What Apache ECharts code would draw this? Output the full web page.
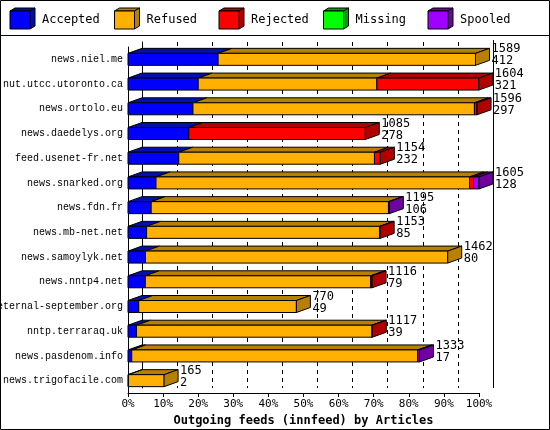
<!DOCTYPE html>
<html><head><meta charset="utf-8">
<script src="https://cdn.jsdelivr.net/npm/echarts@6/dist/echarts.min.js"></script>
<style>html,body{margin:0;padding:0;background:#fff}#c{width:550px;height:430px}</style>
</head><body><div id="c"></div>
<script>
const hosts = ["news.niel.me","nut.utcc.utoronto.ca","news.ortolo.eu","news.daedelys.org","feed.usenet-fr.net","news.snarked.org","news.fdn.fr","news.mb-net.net","news.samoylyk.net","news.nntp4.net","eternal-september.org","nntp.terraraq.uk","news.pasdenom.info","news.trigofacile.com"];
const totals   = [1589,1604,1596,1085,1154,1605,1195,1153,1462,1116,770,1117,1333,165];
const accepted = [412,321,297,278,232,128,106,85,80,79,49,39,17,2];
const refused  = [1177,817,1287,0,895,1434,1085,1065,1382,1031,721,1077,1308,163];
const rejected = [0,466,12,807,27,18,0,3,0,6,0,1,0,0];
const missing  = [0,0,0,0,0,0,0,0,0,0,0,0,0,0];
const spooled  = [0,0,0,0,0,25,4,0,0,0,0,0,8,0];
const seriesNames = ["Accepted","Refused","Rejected","Missing","Spooled"];
const front = ["#0000ff","#ffb000","#ff0000","#00ff00","#a000ff"];
const dark  = ["#0010b0","#b88000","#b00000","#00a000","#7000a0"];
const axisMax = 1605;

const cols = [accepted, refused, rejected, missing, spooled];
const data = [];
hosts.forEach((h, i) => {
  let s = 0, lastK = -1;
  cols.forEach((c, k) => { if (c[i] > 0) lastK = k; });
  cols.forEach((c, k) => {
    if (c[i] > 0) { data.push([i, s, s + c[i], k, k === lastK ? 1 : 0]); s += c[i]; }
  });
});
const DX = 14, DY = 5, H = 6;
function renderItem(params, api) {
  const i = api.value(0), a = api.value(1), b = api.value(2), k = api.value(3), last = api.value(4);
  const p0 = api.coord([a, i]), p1 = api.coord([b, i]);
  const x0 = p0[0], x1 = p1[0], yc = p0[1];
  const st = {stroke: "#000", lineWidth: 1};
  const ch = [
    {type:"polygon", shape:{points:[[x0,yc-H],[x0+DX,yc-H-DY],[x1+DX,yc-H-DY],[x1,yc-H]]}, style:Object.assign({fill:dark[k]}, st)},
    {type:"rect", shape:{x:x0,y:yc-H,width:x1-x0,height:2*H}, style:Object.assign({fill:front[k]}, st)}
  ];
  if (last) {
    ch.push({type:"polygon", shape:{points:[[x1,yc-H],[x1+DX,yc-H-DY],[x1+DX,yc+H-DY],[x1,yc+H]]}, style:Object.assign({fill:dark[k]}, st)});
    ch.push({type:"text", style:{x:x1+DX+2, y:yc-16, text: totals[i] + "\n" + accepted[i], fill:"#000", font:"12px 'DejaVu Sans Mono'", lineHeight:12}});
  }
  return {type:"group", children: ch};
}
const legendG = [];
seriesNames.forEach((n, k) => {
  const x = 10 + k * 104.5, y = 11;
  legendG.push({type:"polygon", shape:{points:[[x,y],[x+5,y-3],[x+25,y-3],[x+20,y]]}, style:{fill:dark[k],stroke:"#000"}});
  legendG.push({type:"polygon", shape:{points:[[x+20,y],[x+25,y-3],[x+25,y+15],[x+20,y+18]]}, style:{fill:dark[k],stroke:"#000"}});
  legendG.push({type:"rect", shape:{x:x,y:y,width:20,height:18}, style:{fill:front[k],stroke:"#000"}});
  legendG.push({type:"text", style:{x:x+32, y:y+3, text:n, fill:"#000", font:"12px 'DejaVu Sans Mono'"}});
});
const chart = echarts.init(document.getElementById("c"));
chart.setOption({
  animation:false,
  grid:[{left:128,right:71,top:47,bottom:37,outerBoundsMode:"none",containLabel:false},
        {left:142,right:57,top:42,bottom:42,outerBoundsMode:"none",containLabel:false}],
  xAxis:[
    {gridIndex:0,type:"value",min:0,max:axisMax,interval:axisMax/10,
     axisLine:{show:true,lineStyle:{color:"#000"}},axisTick:{show:true,length:4,lineStyle:{color:"#000"}},splitLine:{show:false},
     axisLabel:{color:"#000",fontFamily:"DejaVu Sans Mono",fontSize:11,margin:6,formatter:v=>Math.round(v/axisMax*100)+"%"},
     name:"Outgoing feeds (innfeed) by Articles",nameLocation:"middle",nameGap:22,
     nameTextStyle:{color:"#000",fontFamily:"DejaVu Sans Mono",fontSize:12,fontWeight:"bold"}},
    {gridIndex:1,type:"value",min:0,max:axisMax,interval:axisMax/10,axisLine:{show:false},axisTick:{show:false},axisLabel:{show:false},
     splitLine:{show:true,lineStyle:{color:"#000",type:[4,4]}}}
  ],
  yAxis:[
    {gridIndex:0,type:"category",data:hosts,inverse:true,axisLine:{lineStyle:{color:"#000"}},axisTick:{show:false},
     axisLabel:{color:"#000",fontFamily:"Liberation Mono",fontSize:10,margin:5}},
    {gridIndex:1,type:"category",data:hosts,inverse:true,axisLine:{show:true,lineStyle:{color:"#000"}},axisTick:{show:false},axisLabel:{show:false}}
  ],
  series:[{type:"custom",xAxisIndex:0,yAxisIndex:0,renderItem:renderItem,encode:{x:[1,2],y:0},data:data,z:5}],
  graphic:[
    {type:"rect",shape:{x:0.5,y:0.5,width:549,height:429},style:{fill:null,stroke:"#000"},z:100},
    {type:"line",shape:{x1:0,y1:35.5,x2:550,y2:35.5},style:{stroke:"#000"},z:100},
    {type:"line",shape:{x1:493.5,y1:40,x2:493.5,y2:388},style:{stroke:"#000"},z:1},
    {type:"group",children:legendG}
  ]
});
</script></body></html>
